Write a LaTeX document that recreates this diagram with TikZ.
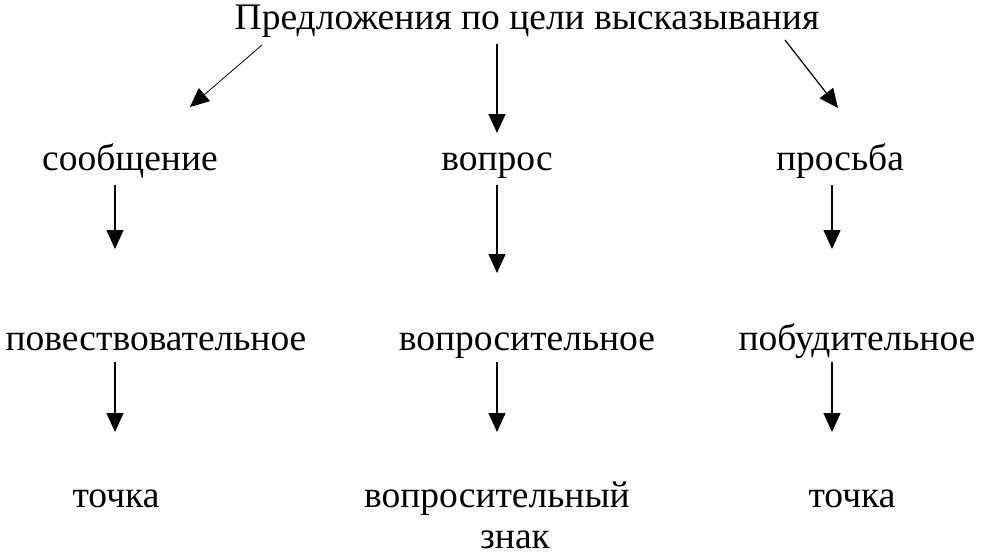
\documentclass[tikz,border=0pt]{standalone}
\usepackage{fontspec}
\setmainfont{Liberation Serif}
\usetikzlibrary{arrows.meta}
\begin{document}
\begin{tikzpicture}[x=1pt,y=-1pt,
  lbl/.style={font=\fontsize{37.5}{41}\selectfont, inner sep=0pt, align=center, anchor=base},
  arr/.style={-{Triangle[width=17pt,length=19pt]}, line width=1.2pt}]
\useasboundingbox[fill=white] (0,0) rectangle (986,558);
\node[lbl] (t) at (527,29) {Предложения по цели высказывания};
\node[lbl] (a1) at (130,170) {сообщение};
\node[lbl] (b1) at (497,170) {вопрос};
\node[lbl] (c1) at (840,170) {просьба};
\node[lbl] (a2) at (156,350) {повествовательное};
\node[lbl] (b2) at (527,350) {вопросительное};
\node[lbl] (c2) at (857,350) {побудительное};
\node[lbl] (a3) at (116,507) {точка};
\node[lbl] (b3) at (497,507) {вопросительный};
\node[lbl] (b4) at (515,548) {знак};
\node[lbl] (c3) at (852,507) {точка};
\coordinate (ea) at (190,107);
\coordinate (eb) at (497,133);
\coordinate (ec) at (838,108);
\coordinate (ea1) at (115,249);
\coordinate (eb1) at (497,273);
\coordinate (ec1) at (832,249);
\coordinate (ea2) at (115,432);
\coordinate (eb2) at (497,432);
\coordinate (ec2) at (832,432);
\draw[arr, line width=0.8pt] (262,45) coordinate (sa) -- (ea);
\draw[arr] (497,44) coordinate (sb) -- (eb);
\draw[arr] (785,40) coordinate (sc) -- (ec);
\draw[arr] (115,185) coordinate (sa1) -- (ea1);
\draw[arr] (497,185) coordinate (sb1) -- (eb1);
\draw[arr] (832,185) coordinate (sc1) -- (ec1);
\draw[arr] (115,362) coordinate (sa2) -- (ea2);
\draw[arr] (497,362) coordinate (sb2) -- (eb2);
\draw[arr] (832,362) coordinate (sc2) -- (ec2);
\end{tikzpicture}
\end{document}
